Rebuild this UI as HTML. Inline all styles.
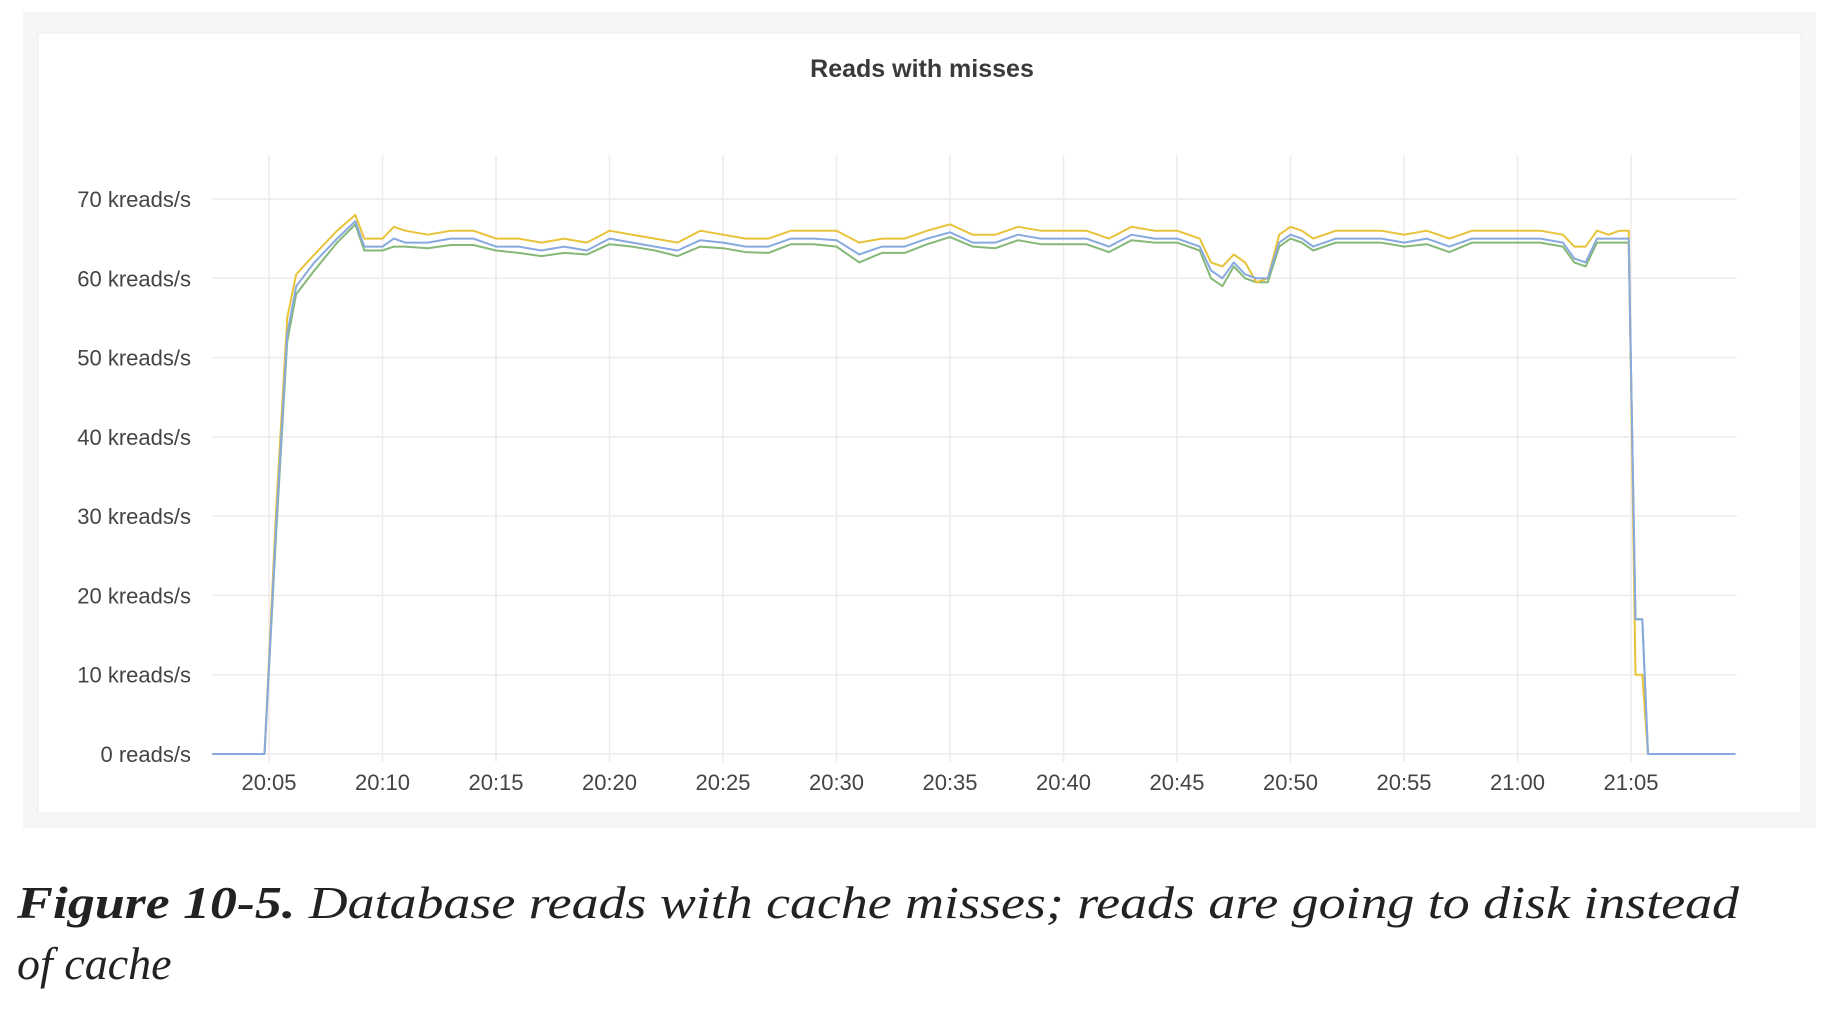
<!DOCTYPE html>
<html><head><meta charset="utf-8">
<style>
html,body{margin:0;padding:0;background:#fff;}
body{width:1828px;height:1008px;overflow:hidden;font-family:"Liberation Sans",sans-serif;}
</style></head>
<body>
<svg id="chart" width="1828" height="1008" xmlns="http://www.w3.org/2000/svg">
  <rect x="23" y="12" width="1793" height="816" fill="#f6f6f6"/>
  <rect x="38" y="33" width="1763" height="780" fill="#fff" stroke="#ededed"/>
  <text x="922" y="77" text-anchor="middle" font-size="25" font-weight="600" fill="#3a3a3a">Reads with misses</text>
  <g id="grid"></g>
  <g id="yaxis"></g>
  <g id="xaxis"></g>
  <g id="series"></g>
  <text font-family="Liberation Serif, serif" font-style="italic" font-size="46" fill="#222">
    <tspan x="17" y="918" textLength="1722" lengthAdjust="spacingAndGlyphs"><tspan font-weight="bold">Figure 10-5.</tspan>  Database reads with cache misses; reads are going to disk instead</tspan>
    <tspan x="17" y="979">of cache</tspan>
  </text>
</svg>
<script>
const yTicks = [0,10,20,30,40,50,60,70];
const yTickLabels = ["0 reads/s","10 kreads/s","20 kreads/s","30 kreads/s","40 kreads/s","50 kreads/s","60 kreads/s","70 kreads/s"];
const xTicks = [5,10,15,20,25,30,35,40,45,50,55,60,65];
const xTickLabels = ["20:05","20:10","20:15","20:20","20:25","20:30","20:35","20:40","20:45","20:50","20:55","21:00","21:05"];
const times = [2.5,4.8,5.3,5.8,6.2,7,8,8.8,9.2,10,10.5,11,
 12,13,14,15,16,17,18,19,20,21,22,23,24,25,26,27,28,29,30,31,32,33,34,35,36,37,38,39,40,41,42,43,44,45,46,
 46.5,47,47.5,48,48.5,49,49.5,50,50.5,
 51,52,53,54,55,56,57,58,59,60,61,62,
 62.5,63,63.5,64,64.5,64.9,65.2,65.5,65.75,69.6];
const yellowSeries = [0,0,30,55,60.5,63,66,68,65,65,66.5,66,
 65.5,66,66,65,65,64.5,65,64.5,66,65.5,65,64.5,66,65.5,65,65,66,66,66,64.5,65,65,66,66.8,65.5,65.5,66.5,66,66,66,65,66.5,66,66,65,
 62,61.5,63,62,59.5,60,65.5,66.5,66,
 65,66,66,66,65.5,66,65,66,66,66,66,65.5,
 64,64,66,65.5,66,66,10,10,0,0];
const blueSeries = [0,0,28,53,59,62,65,67.2,64,64,65,64.5,
 64.5,65,65,64,64,63.5,64,63.5,65,64.5,64,63.5,64.8,64.5,64,64,65,65,64.8,63,64,64,65,65.8,64.5,64.5,65.5,65,65,65,64,65.5,65,65,64,
 61,60,62,60.5,60,60,64.5,65.5,65,
 64,65,65,65,64.5,65,64,65,65,65,65,64.5,
 62.5,62,65,65,65,65,17,17,0,0];
const greenSeries = [0,0,27,52,58,61,64.5,66.8,63.5,63.5,64,64,
 63.8,64.2,64.2,63.5,63.2,62.8,63.2,63,64.3,64,63.5,62.8,64,63.8,63.3,63.2,64.3,64.3,64,62,63.2,63.2,64.3,65.2,64,63.8,64.8,64.3,64.3,64.3,63.3,64.8,64.5,64.5,63.5,
 60,59,61.5,60,59.5,59.5,64,65,64.5,
 63.5,64.5,64.5,64.5,64,64.3,63.3,64.5,64.5,64.5,64.5,64,
 62,61.5,64.5,64.5,64.5,64.5,17,17,0,0];

const NS = "http://www.w3.org/2000/svg";
const X0 = 212, X1 = 1737, Y0 = 754, Ypx = 555/70;
function xScale(m){ return 269 + (m-5) * (1362/60); }
function yScale(v){ return Y0 - v * Ypx; }
function mk(tag, attrs, parent){ const e=document.createElementNS(NS,tag); for(const k in attrs) e.setAttribute(k,attrs[k]); parent.appendChild(e); return e; }

const grid = document.getElementById('grid');
const yaxis = document.getElementById('yaxis');
const xaxis = document.getElementById('xaxis');
const series = document.getElementById('series');

yTicks.forEach((v,i)=>{
  const y = yScale(v);
  const l = mk('line',{x1:X0,x2:X1,y1:y,y2:y,stroke:'#f0eaea','stroke-width':1.5},grid);
  
  
  const t = mk('text',{x:191,y:y+8,'text-anchor':'end','font-size':22,fill:'#444'},yaxis);
  
  
  t.textContent = yTickLabels[i];
});
xTicks.forEach((m,i)=>{
  const x = xScale(m);
  const l = mk('line',{x1:x,x2:x,y1:155,y2:762,stroke:'#f0eaea','stroke-width':1.5},grid);
  
  
  const t = mk('text',{x:x,y:790,'text-anchor':'middle','font-size':22,fill:'#444'},xaxis);
  
  
  t.textContent = xTickLabels[i];
});
function drawLine(vals,color,name){
  const d = times.map((t,i)=>(i?'L':'M')+xScale(t).toFixed(1)+','+yScale(vals[i]).toFixed(1)).join(' ');
  const p = mk('path',{d:d,fill:'none',stroke:color,'stroke-width':2,'stroke-linejoin':'round'},series);
  
  
}
drawLine(greenSeries,'#86b877','series-green');
drawLine(yellowSeries,'#e8c33a','series-yellow');
drawLine(blueSeries,'#88a9e0','series-blue');
</script>
</body></html>
